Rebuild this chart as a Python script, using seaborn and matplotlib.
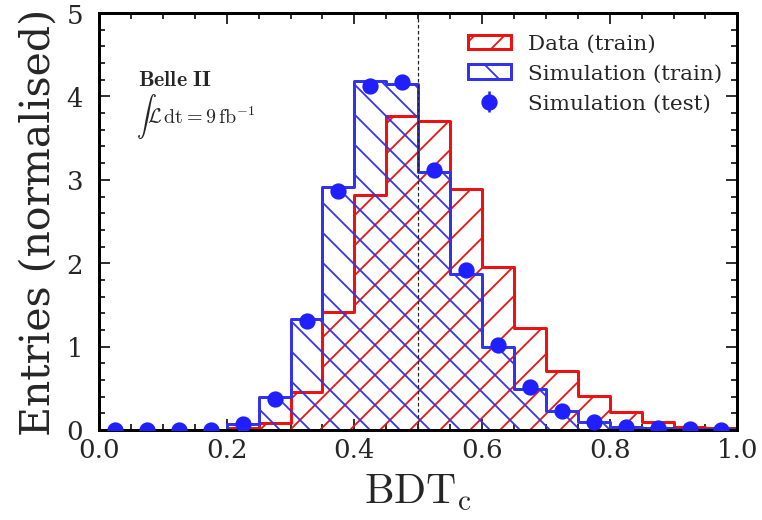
import numpy as np
import pandas as pd
import matplotlib
matplotlib.use("Agg")
import matplotlib.pyplot as plt
import seaborn as sns
from matplotlib.ticker import MultipleLocator

# Bin structure of BDT_c output (20 bins over [0, 1])
bin_edges = [round(0.05 * i, 2) for i in range(21)]
bin_centres = [round((a + b) / 2, 3) for a, b in zip(bin_edges[:-1], bin_edges[1:])]

# Normalised entries per bin
data_train = [0.00, 0.00, 0.00, 0.00, 0.02, 0.08, 0.45, 1.41, 2.82, 3.77,
              3.71, 2.89, 1.96, 1.22, 0.71, 0.41, 0.22, 0.10, 0.04, 0.02]
sim_train = [0.00, 0.00, 0.00, 0.00, 0.07, 0.39, 1.33, 2.92, 4.19, 4.15,
             3.10, 1.87, 1.00, 0.49, 0.23, 0.09, 0.03, 0.02, 0.01, 0.01]
sim_test = [0.00, 0.00, 0.00, 0.00, 0.07, 0.37, 1.31, 2.87, 4.13, 4.17,
            3.12, 1.92, 1.02, 0.51, 0.23, 0.09, 0.04, 0.02, 0.01, 0.00]
sim_test_err = [0.00, 0.00, 0.00, 0.00, 0.02, 0.03, 0.05, 0.06, 0.07, 0.07,
                0.06, 0.05, 0.04, 0.03, 0.02, 0.01, 0.01, 0.01, 0.00, 0.00]

labels = ["Data (train)", "Simulation (train)", "Simulation (test)"]
x_ticks = [0.0, 0.2, 0.4, 0.6, 0.8, 1.0]
y_ticks = [0, 1, 2, 3, 4, 5]
cut_value = 0.5

hist_df = pd.DataFrame({"bdt": bin_centres, "data": data_train, "sim": sim_train})

DPI = 270


def pt(px):
    return px * 72.0 / DPI


RED = "#ee1111"
BLUE = "#3333ee"

sns.set_style("ticks")
plt.rcParams["font.family"] = ["DejaVu Serif"]
plt.rcParams["mathtext.fontset"] = "cm"
plt.rcParams["hatch.linewidth"] = pt(1.8)

fig = plt.figure(figsize=(762.4 / DPI, 520.4 / DPI), dpi=DPI)
ax = fig.add_axes([99 / 762, 90 / 520, 638 / 762, 416.5 / 520])

lw = pt(3.0)
for col, colour, hatch, lab in [("data", RED, "///", labels[0]),
                                ("sim", BLUE, "\\\\\\", labels[1])]:
    n_before = len(ax.collections)
    sns.histplot(data=hist_df, x="bdt", weights=col, bins=bin_edges,
                 element="step", fill=True, ax=ax, label=lab)
    poly = ax.collections[n_before]
    poly.set_facecolor("none")
    poly.set_edgecolor(colour)
    poly.set_hatch(hatch)
    poly.set_linewidth(lw)
    poly.set_alpha(1.0)

err = ax.errorbar(bin_centres, sim_test, yerr=sim_test_err, fmt="o",
                  color="#1f1fff", ms=pt(12.5), elinewidth=pt(2.5),
                  capsize=0, label=labels[2], zorder=5)

ax.axvline(cut_value, color="#222222", lw=pt(1.2), ls=(0, (3, 2)), zorder=1)

ax.set_xlim(0, 1)
ax.set_ylim(0, 5)
ax.set_xticks(x_ticks)
ax.set_yticks(y_ticks)
ax.xaxis.set_minor_locator(MultipleLocator(0.05))
ax.yaxis.set_minor_locator(MultipleLocator(0.2))
ax.tick_params(which="both", direction="in", top=True, right=True,
               width=pt(1.6), color="black")
ax.tick_params(which="major", length=pt(11), labelsize=pt(26))
ax.tick_params(axis="x", which="major", pad=pt(8))
ax.tick_params(axis="y", which="major", pad=pt(16))
ax.tick_params(which="minor", length=pt(6))
for sp in ax.spines.values():
    sp.set_linewidth(pt(3.0))
    sp.set_color("black")

ax.set_xlabel(r"$\mathrm{BDT}_{\mathrm{c}}$", fontsize=pt(42), labelpad=pt(8))
ax.set_ylabel("Entries (normalised)", fontsize=pt(41), labelpad=pt(8))

ax.text(0.061, 0.827, r"$\mathbf{Belle\ II}$", transform=ax.transAxes,
        fontsize=pt(22), va="baseline", ha="left")
ax.text(0.058, 0.738, r"$\int\mathcal{L}\,\mathrm{dt}=9\,\mathrm{fb}^{-1}$",
        transform=ax.transAxes, fontsize=pt(20), va="baseline", ha="left")

handles, labs = ax.get_legend_handles_labels()
order = [labs.index(l) for l in labels]
ax.legend([handles[i] for i in order], [labs[i] for i in order],
          loc="upper right", bbox_to_anchor=(1.0, 0.985), frameon=False,
          fontsize=pt(21.5), handlelength=2.0, handleheight=0.65,
          handletextpad=0.8, labelspacing=0.5, borderaxespad=0.3,
          borderpad=0.4)

fig.savefig("out.png", dpi=DPI)
